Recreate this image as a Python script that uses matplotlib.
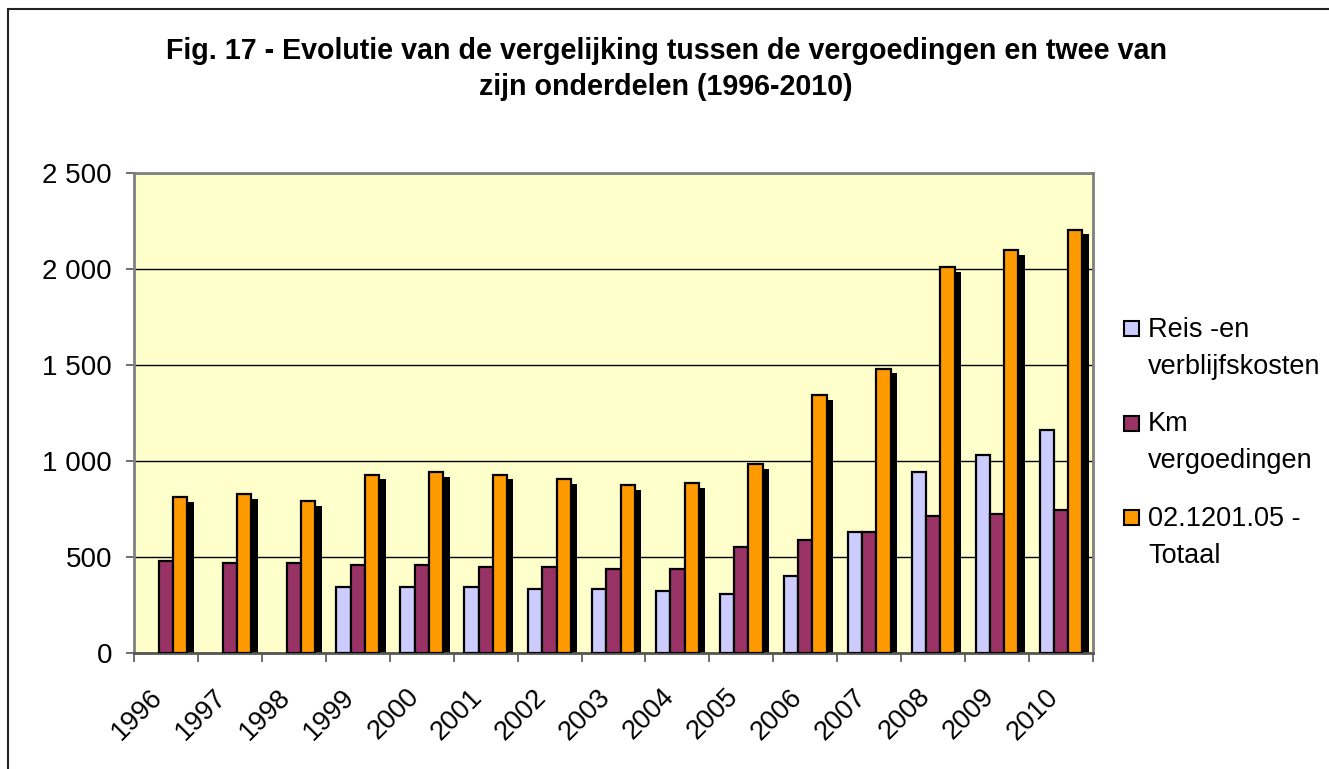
import matplotlib
matplotlib.use("Agg")
import matplotlib.pyplot as plt
import matplotlib.transforms as mtransforms
from matplotlib.patches import Rectangle
import numpy as np

plt.rcParams['font.family'] = ['Liberation Sans', 'DejaVu Sans']

years = ['1996', '1997', '1998', '1999', '2000', '2001', '2002', '2003',
         '2004', '2005', '2006', '2007', '2008', '2009', '2010']
reis = [None, None, None, 343, 343, 343, 331, 331, 320, 308, 402, 630, 940, 1033, 1160]
km = [480, 469, 469, 456, 456, 446, 446, 435, 435, 549, 587, 630, 712, 723, 745]
totaal = [811, 825, 791, 928, 940, 928, 905, 873, 883, 984, 1343, 1480, 2010, 2100, 2205]
series_names = ['Reis -en\nverblijfskosten', 'Km\nvergoedingen', '02.1201.05 -\nTotaal']
colors = ['#CCCCFF', '#993366', '#FF9900']
yticks = [0, 500, 1000, 1500, 2000, 2500]
ytick_labels = ['0', '500', '1 000', '1 500', '2 000', '2 500']
title = 'Fig. 17 - Evolutie van de vergelijking tussen de vergoedingen en twee van\nzijn onderdelen (1996-2010)'

W, H = 1329, 769
fig = plt.figure(figsize=(W / 100, H / 100), dpi=100)
fig.patch.set_facecolor('white')

# outer chart border
fig.patches.append(Rectangle((8 / W, -0.05), 1.2, (H - 9) / H + 0.05, transform=fig.transFigure,
                             fill=False, edgecolor='#222222', linewidth=1.5))

ax = fig.add_axes([134 / W, (H - 652.7) / H, (1093 - 134) / W, (652.7 - 173.3) / H])
ax.set_facecolor('#FFFFCC')

x = np.arange(len(years))
w = 0.2225
reis_v = np.array([np.nan if v is None else v for v in reis], dtype=float)

shadow = ax.transData + mtransforms.ScaledTranslation(6.5 / 100, -4.5 / 100, fig.dpi_scale_trans)
ax.bar(x + w, totaal, w, color='black', edgecolor='black', linewidth=0, transform=shadow, zorder=2)

ax.bar(x - w, reis_v, w, color=colors[0], edgecolor='black', linewidth=1.6, zorder=3)
ax.bar(x, km, w, color=colors[1], edgecolor='black', linewidth=1.6, zorder=3)
ax.bar(x + w, totaal, w, color=colors[2], edgecolor='black', linewidth=1.6, zorder=4)

ax.set_xlim(-0.5, len(years) - 0.5)
ax.set_ylim(0, 2500)
ax.set_yticks(yticks)
ax.set_yticklabels(ytick_labels, fontsize=20)
ax.yaxis.grid(True, color='black', linewidth=1.0, zorder=1)
ax.set_axisbelow(True)

ax.set_xticks(np.arange(len(years) + 1) - 0.5)
ax.set_xticklabels([])
ax.tick_params(axis='x', length=6.2, width=1.2, color='#555555')
ax.tick_params(axis='y', length=5.8, width=1.2, color='#555555', pad=10)

for xi, lab in zip(x, years):
    ax.annotate(lab, xy=(xi, 0), xycoords=('data', 'axes fraction'),
                xytext=(-5, -29), textcoords='offset points',
                rotation=45, rotation_mode='anchor', ha='right', va='center', fontsize=19.5)

for s in ax.spines.values():
    s.set_color('#808080')
    s.set_linewidth(2)
ax.spines['bottom'].set_color('#555555')

fig.text(666 / W, 1 - 69 / H, title, ha='center', va='center', fontsize=20.6,
         fontweight='bold', linespacing=1.4)

# legend (Excel style: marker aligned with first line of each entry)
leg_y0, leg_dy, line_dy = 327, 94.5, 37
for i, (c, name) in enumerate(zip(colors, series_names)):
    yc = leg_y0 + i * leg_dy
    fig.patches.append(Rectangle((1124 / W, 1 - (yc + 9) / H), 15 / W, 15 / H,
                                 transform=fig.transFigure, facecolor=c,
                                 edgecolor='black', linewidth=1.5))
    for j, line in enumerate(name.split('\n')):
        fig.text(1148 / W, 1 - (yc + j * line_dy) / H, line, ha='left', va='center_baseline',
                 fontsize=19.5)

fig.savefig('out.png', dpi=100)
